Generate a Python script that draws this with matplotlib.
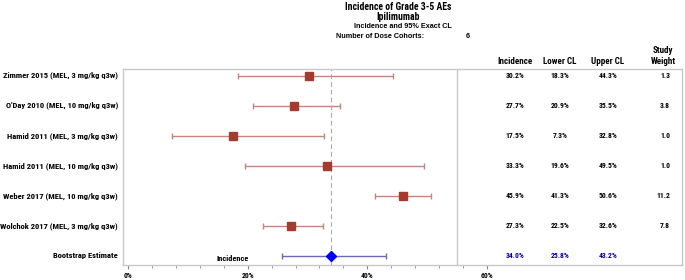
import matplotlib.pyplot as plt
from matplotlib.transforms import blended_transform_factory
from matplotlib.ticker import FuncFormatter

plt.rcParams['font.family'] = ['Roboto Condensed', 'DejaVu Sans']
plt.rcParams['font.weight'] = 'bold'

studies = [
    'Zimmer 2015 (MEL, 3 mg/kg q3w)',
    "O'Day 2010 (MEL, 10 mg/kg q3w)",
    'Hamid 2011 (MEL, 3 mg/kg q3w)',
    'Hamid 2011 (MEL, 10 mg/kg q3w)',
    'Weber 2017 (MEL, 10 mg/kg q3w)',
    'Wolchok 2017 (MEL, 3 mg/kg q3w)',
]
incidence = [30.2, 27.7, 17.5, 33.3, 45.9, 27.3]
lower_cl = [18.3, 20.9, 7.3, 19.6, 41.3, 22.5]
upper_cl = [44.3, 35.5, 32.8, 49.5, 50.6, 32.6]
weights = [1.3, 3.8, 1.0, 1.0, 11.2, 7.8]

boot_label = 'Bootstrap Estimate'
boot_est = 34.0
boot_lo = 25.8
boot_hi = 43.2

n_cohorts = 6

RED = '#a33b2f'
RED_BAR = '#c28580'
BLUE = '#0000ff'
BLUE_BAR = '#6a6ab8'
FRAME = '#c8c8c8'
FS = 5.5
ARIAL = ['Liberation Sans', 'DejaVu Sans']

fig = plt.figure(figsize=(6.85, 2.8), dpi=100)
ax = fig.add_axes([0.1796, 0.0536, 0.816, 0.7])

rows = list(range(len(studies)))
err = [[i - l for i, l in zip(incidence, lower_cl)],
       [u - i for i, u in zip(incidence, upper_cl)]]
ax.errorbar(incidence, rows, xerr=err, fmt='none', ecolor=RED_BAR,
            elinewidth=1.0, capsize=2.5, capthick=1.0)
ax.plot(incidence, rows, 's', color=RED, markersize=5.5, zorder=3)

brow = len(studies)
ax.errorbar([boot_est], [brow], xerr=[[boot_est - boot_lo], [boot_hi - boot_est]],
            fmt='none', ecolor=BLUE_BAR, elinewidth=1.0, capsize=2.5, capthick=1.0)
ax.plot([boot_est], [brow], 'D', color=BLUE, markersize=5.5, zorder=3)
ax.annotate('Incidence', xy=(boot_lo, brow), xytext=(-24, -2),
            textcoords='offset points', ha='right', va='center', fontsize=6)

ax.axvline(boot_est, color='#a8a8a8', linestyle=(0, (4, 3)), linewidth=0.8)
ax.axvline(55.0, color=FRAME, linewidth=1.0)

ax.set_xlim(-0.84, 92.6)
ax.set_ylim(6.3, -0.22)
ax.set_xticks([0, 20, 40, 60])
ax.xaxis.set_major_formatter(FuncFormatter(lambda v, p: '{:.0f}%'.format(v)))
minor = [t for t in range(4, 60, 4) if t % 20]
ax.set_xticks(minor, minor=True)
ax.tick_params(axis='x', which='major', length=3, labelsize=FS, pad=2, color='#888888')
ax.tick_params(axis='x', which='minor', length=2, color='#888888')
ax.set_yticks([])
for s in ax.spines.values():
    s.set_color(FRAME)
    s.set_linewidth(1.0)

# study labels to the left of the frame
lab = blended_transform_factory(fig.transFigure, ax.transData)
for r, name in enumerate(studies + [boot_label]):
    fig.text(118 / 685, r, name, transform=lab, ha='right', va='center', fontsize=6.1)

# table columns
cols = [515 / 685, 560 / 685, 608 / 685]
for r in rows:
    vals = [incidence[r], lower_cl[r], upper_cl[r]]
    for cx, v in zip(cols, vals):
        fig.text(cx, r, '{:.1f}%'.format(v), transform=lab, ha='center',
                 va='center', fontsize=FS)
    fig.text(670 / 685, r, '{:.1f}'.format(weights[r]), transform=lab,
             ha='right', va='center', fontsize=FS)
for cx, v in zip(cols, [boot_est, boot_lo, boot_hi]):
    fig.text(cx, brow, '{:.1f}%'.format(v), transform=lab, ha='center',
             va='center', fontsize=FS, color='#0000a0')

hy = 1 - 61 / 280
fig.text(cols[0], hy, 'Incidence', ha='center', va='center', fontsize=6.5)
fig.text(cols[1], hy, 'Lower CL', ha='center', va='center', fontsize=6.5)
fig.text(cols[2], hy, 'Upper CL', ha='center', va='center', fontsize=6.5)
fig.text(663 / 685, hy + 0.018, 'Study\nWeight', ha='center', va='center',
         fontsize=6.5, linespacing=1.2)

# titles
tx = 398 / 685
fig.text(tx, 1 - 7 / 280, 'Incidence of Grade 3-5 AEs', ha='center', va='center', fontsize=7)
fig.text(tx, 1 - 17 / 280, 'Ipilimumab', ha='center', va='center', fontsize=7)
fig.text(403 / 685, 1 - 27 / 280, 'Incidence and 95% Exact CL', ha='center', va='center',
         fontsize=5.2, family=ARIAL)
fig.text(336 / 685, 1 - 36 / 280, 'Number of Dose Cohorts:', ha='left', va='center',
         fontsize=5.2, family=ARIAL)
fig.text(468 / 685, 1 - 36 / 280, str(n_cohorts), ha='center', va='center',
         fontsize=5.2, family=ARIAL)

fig.savefig('out.png', dpi=100)
